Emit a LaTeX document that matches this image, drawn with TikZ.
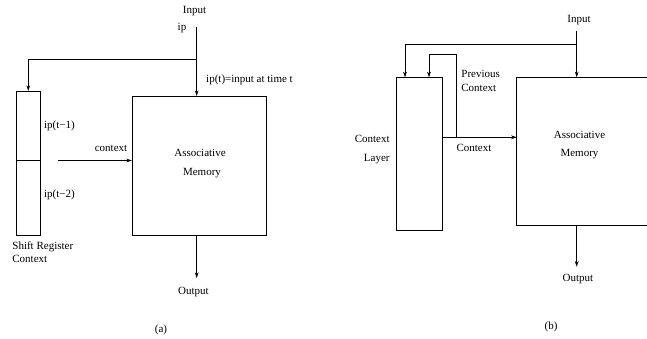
\documentclass[tikz,border=0pt]{standalone}
\usepackage{fontspec}
\setmainfont{Liberation Serif}
\usetikzlibrary{arrows.meta,calc}
\begin{document}
\begin{tikzpicture}[x=1pt,y=-1pt,
  line width=0.8pt,
  box/.style={draw,rectangle,inner sep=0pt,outer sep=0pt,anchor=north west},
  lbl/.style={inner sep=0pt,anchor=base,font=\fontsize{11}{13}\selectfont},
  arr/.style={-{Stealth[length=5.5pt,width=3.6pt,inset=1.5pt]}}]
\path[use as bounding box,clip] (0,0) rectangle (647,338);
% ---------- (a) ----------
\node[box,minimum width=23.5pt,minimum height=69pt] (srTop) at (16.5,91) {};
\node[box,minimum width=23.5pt,minimum height=75pt] (srBot) at (16.5,160) {};
\node[box,minimum width=134.7pt,minimum height=139pt] (AMa) at (132,96) {};
\node[lbl] (assocA) at (200,156) {Associative};
\node[lbl] (memA) at (202,175) {Memory};
\node[lbl] (inputA) at (194.5,13.5) {Input};
\node[lbl] (ipA) at (182,30) {ip};
\node[lbl] (iptA) at (249.5,82) {ip(t)=input at time t};
\node[lbl] (ip1) at (59.5,128.5) {ip(t\textminus1)};
\node[lbl] (ip2) at (59.5,197.5) {ip(t\textminus2)};
\node[lbl] (ctxlblA) at (111,151.5) {context};
\node[lbl,anchor=base west] (srlbl1) at (12,249) {Shift Register};
\node[lbl,anchor=base west] (srlbl2) at (12,262.5) {Context};
\node[lbl] (outA) at (193.5,294) {Output};
\node[lbl] (capA) at (161,332.5) {(a)};
\coordinate (inA) at (196.7,27);
\coordinate (brA) at (196.7,59);
\coordinate (ctxA) at (58,160.5);
\coordinate (endA) at (196.7,278);
\draw[arr] (inA) -- (inA |- AMa.north);
\draw[arr] (brA) -| (srTop.north);
\draw[arr] (ctxA) -- (ctxA -| AMa.west);
\draw[arr] (inA |- AMa.south) -- (endA);
% ---------- (b) ----------
\node[box,minimum width=46pt,minimum height=152.7pt] (CL) at (396.7,77.3) {};
\node[box,minimum width=150pt,minimum height=148pt] (AMb) at (516.7,77.3) {};
\node[lbl] (assocB) at (579.5,138.5) {Associative};
\node[lbl] (memB) at (579.5,156.5) {Memory};
\node[lbl] (inputB) at (579,22) {Input};
\node[lbl,anchor=base west] (prev1) at (461,77.5) {Previous};
\node[lbl,anchor=base west] (prev2) at (461,91) {Context};
\node[lbl] (ctxlblB) at (474,151.5) {Context};
\node[lbl,anchor=base east] (cl1) at (390,142.5) {Context};
\node[lbl,anchor=base east] (cl2) at (390,161) {Layer};
\node[lbl] (outB) at (578,281.5) {Output};
\node[lbl] (capB) at (551,329) {(b)};
\coordinate (inB) at (576.7,31);
\coordinate (brB) at (576.7,44.7);
\coordinate (clInA) at (405,77.3);
\coordinate (ctxB) at (442.7,137.3);
\coordinate (loopB) at (456.7,137.3);
\coordinate (loopTop) at (429,54);
\coordinate (clInB) at (429,77.3);
\coordinate (endB) at (576.7,266.7);
\draw[arr] (inB) -- (inB |- AMb.north);
\draw[arr] (brB) -| (clInA);
\draw[arr] (ctxB) -- (ctxB -| AMb.west);
\draw[arr] (loopB) |- (loopTop) -- (clInB);
\draw[arr] (inB |- AMb.south) -- (endB);
\end{tikzpicture}
\end{document}
